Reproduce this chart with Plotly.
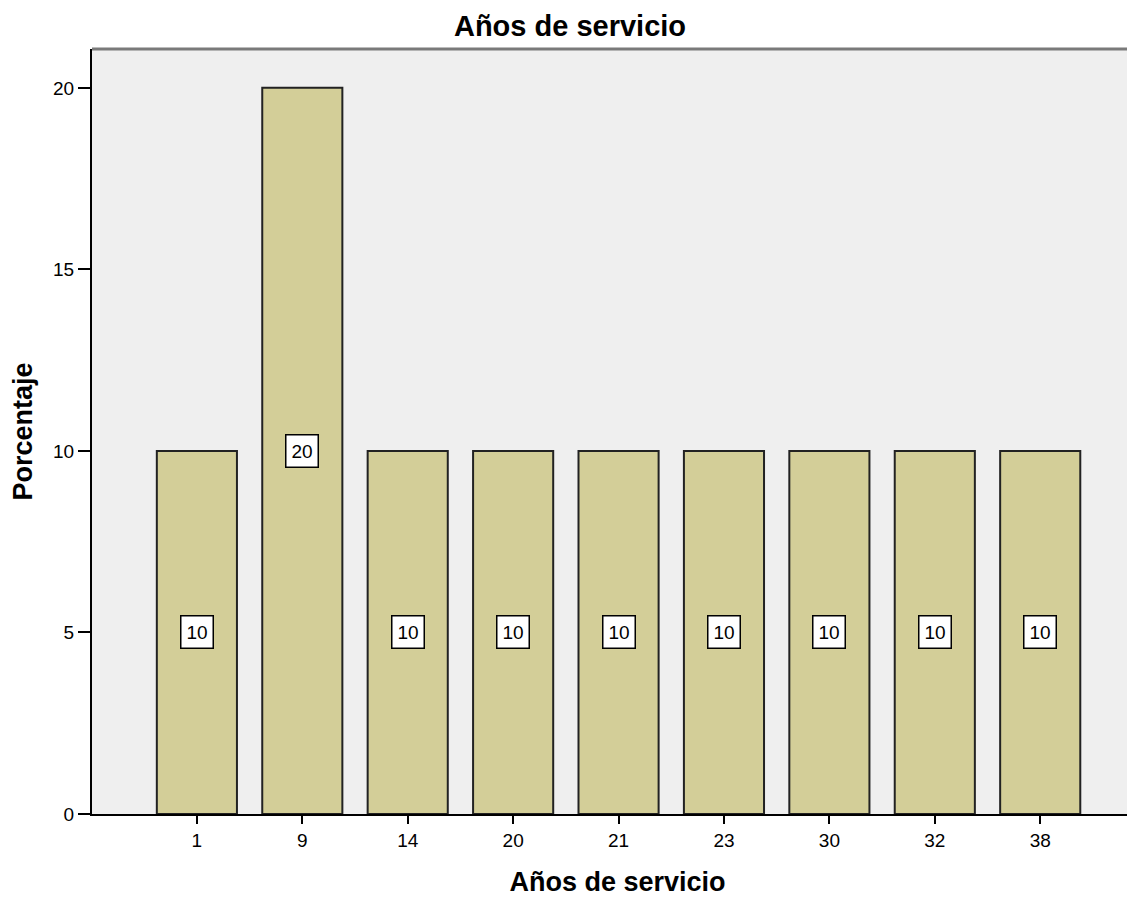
import plotly.graph_objects as go

categories = ["1", "9", "14", "20", "21", "23", "30", "32", "38"]
percentages = [10, 20, 10, 10, 10, 10, 10, 10, 10]
y_ticks = [0, 5, 10, 15, 20]

title_text = "Años de servicio"
x_title = "Años de servicio"
y_title = "Porcentaje"

FONT = "Liberation Sans, Arial, sans-serif"

W, H = 1135, 889  # page body adds an 8px offset

fig = go.Figure()
fig.add_trace(go.Bar(
    x=categories,
    y=percentages,
    width=0.76,
    marker=dict(color="#D3CE98", line=dict(color="#222222", width=2)),
    hoverinfo="x+y",
))

for i, v in enumerate(percentages):
    fig.add_annotation(
        x=i, y=v / 2, text=str(v), showarrow=False,
        font=dict(family=FONT, size=19, color="black"),
        bgcolor="white", bordercolor="black", borderwidth=1.5, borderpad=5,
    )

fig.add_shape(type="line", xref="paper", yref="paper", x0=0, x1=1, y0=1, y1=1,
              line=dict(color="#7a7a7a", width=3))

fig.update_layout(
    width=W, height=H,
    margin=dict(l=84, r=0, t=41, b=83),
    paper_bgcolor="white",
    plot_bgcolor="#EFEFEF",
    showlegend=False,
    title=dict(text=f"<b>{title_text}</b>", x=(570 - 8) / W, xanchor="center",
               y=1 - (26 - 8) / H, yanchor="middle", yref="container",
               font=dict(family=FONT, size=29, color="black")),
    font=dict(family=FONT, size=20, color="black"),
)
fig.update_xaxes(
    type="category",
    range=[-0.995, 8.975],
    showline=True, linecolor="black", linewidth=2,
    ticks="outside", ticklen=8, tickwidth=2, tickcolor="black",
    showgrid=False, zeroline=False,
    tickfont=dict(family=FONT, size=19, color="black"),
    title=dict(text=f"<b>{x_title}</b>", font=dict(family=FONT, size=27, color="black"), standoff=24),
)
fig.update_yaxes(
    range=[0, 21.07],
    tickvals=y_ticks,
    showline=True, linecolor="black", linewidth=2,
    ticks="outside", ticklen=12, tickwidth=2, tickcolor="black",
    showgrid=False, zeroline=False,
    tickfont=dict(family=FONT, size=19, color="black"),
    title=dict(text=f"<b>{y_title}</b>", font=dict(family=FONT, size=27, color="black"), standoff=14),
)

fig.write_html("out.html")
